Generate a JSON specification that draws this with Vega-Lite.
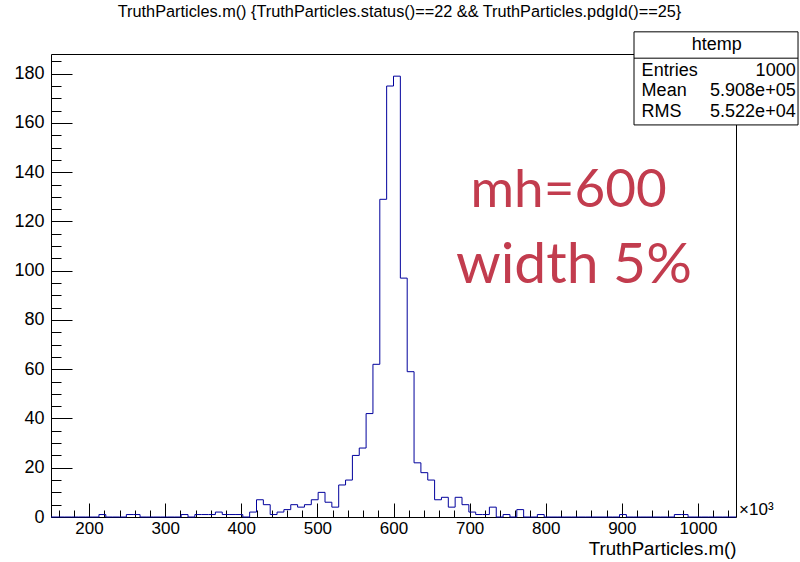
{
  "$schema": "https://vega.github.io/schema/vega-lite/v6.json",
  "width": 685,
  "height": 463,
  "autosize": "none",
  "padding": {"left": 51, "top": 54, "right": 64, "bottom": 45},
  "background": "white",
  "title": {
    "text": "TruthParticles.m() {TruthParticles.status()==22 && TruthParticles.pdgId()==25}",
    "font": "Liberation Sans",
    "fontSize": 16.3,
    "fontWeight": "normal",
    "color": "black",
    "anchor": "middle",
    "dx": 6,
    "offset": 11
  },
  "config": {
    "view": {"stroke": "black", "strokeWidth": 1},
    "axis": {
      "domain": false,
      "grid": false,
      "tickColor": "black",
      "tickWidth": 1,
      "labelColor": "black",
      "labelFont": "Liberation Sans",
      "labelFontSize": 17,
      "titleFont": "Liberation Sans",
      "titleFontWeight": "normal",
      "titleColor": "black"
    }
  },
  "resolve": {"axis": {"x": "independent", "y": "independent"}},
  "datasets": {
    "hist": [
      {"m": 150, "n": 0}, {"m": 159, "n": 0}, {"m": 168, "n": 0}, {"m": 177, "n": 0}, {"m": 186, "n": 0},
      {"m": 195, "n": 0}, {"m": 204, "n": 0}, {"m": 213, "n": 1}, {"m": 222, "n": 0}, {"m": 231, "n": 0},
      {"m": 240, "n": 0}, {"m": 249, "n": 1}, {"m": 258, "n": 1}, {"m": 267, "n": 0}, {"m": 276, "n": 0},
      {"m": 285, "n": 0}, {"m": 294, "n": 0}, {"m": 303, "n": 0}, {"m": 312, "n": 0}, {"m": 321, "n": 1},
      {"m": 330, "n": 0}, {"m": 339, "n": 1}, {"m": 348, "n": 1}, {"m": 357, "n": 1}, {"m": 366, "n": 2},
      {"m": 375, "n": 1}, {"m": 384, "n": 1}, {"m": 393, "n": 1}, {"m": 402, "n": 0}, {"m": 411, "n": 2},
      {"m": 420, "n": 7}, {"m": 429, "n": 5}, {"m": 438, "n": 1}, {"m": 447, "n": 2}, {"m": 456, "n": 3},
      {"m": 465, "n": 5}, {"m": 474, "n": 4}, {"m": 483, "n": 5}, {"m": 492, "n": 7}, {"m": 501, "n": 10},
      {"m": 510, "n": 6}, {"m": 519, "n": 4}, {"m": 528, "n": 13}, {"m": 537, "n": 15}, {"m": 546, "n": 25},
      {"m": 555, "n": 28}, {"m": 564, "n": 42}, {"m": 573, "n": 62}, {"m": 582, "n": 129}, {"m": 591, "n": 175},
      {"m": 600, "n": 179}, {"m": 609, "n": 97}, {"m": 618, "n": 59}, {"m": 627, "n": 22}, {"m": 636, "n": 18},
      {"m": 645, "n": 15}, {"m": 654, "n": 7}, {"m": 663, "n": 8}, {"m": 672, "n": 4}, {"m": 681, "n": 8},
      {"m": 690, "n": 5}, {"m": 699, "n": 2}, {"m": 708, "n": 1}, {"m": 717, "n": 1}, {"m": 726, "n": 4},
      {"m": 735, "n": 0}, {"m": 744, "n": 1}, {"m": 753, "n": 0}, {"m": 762, "n": 3}, {"m": 771, "n": 0},
      {"m": 780, "n": 0}, {"m": 789, "n": 1}, {"m": 798, "n": 0}, {"m": 807, "n": 0}, {"m": 816, "n": 0},
      {"m": 825, "n": 0}, {"m": 834, "n": 0}, {"m": 843, "n": 0}, {"m": 852, "n": 0}, {"m": 861, "n": 0},
      {"m": 870, "n": 0}, {"m": 879, "n": 0}, {"m": 888, "n": 0}, {"m": 897, "n": 1}, {"m": 906, "n": 0},
      {"m": 915, "n": 0}, {"m": 924, "n": 0}, {"m": 933, "n": 0}, {"m": 942, "n": 0}, {"m": 951, "n": 0},
      {"m": 960, "n": 0}, {"m": 969, "n": 1}, {"m": 978, "n": 1}, {"m": 987, "n": 0}, {"m": 996, "n": 0},
      {"m": 1005, "n": 0}, {"m": 1014, "n": 0}, {"m": 1023, "n": 0}, {"m": 1032, "n": 0}, {"m": 1041, "n": 0},
      {"m": 1050, "n": 0}
    ]
  },
  "layer": [
    {
      "data": {"name": "hist"},
      "mark": {"type": "line", "interpolate": "step-after", "color": "#00009c", "strokeWidth": 1},
      "encoding": {
        "x": {
          "field": "m", "type": "quantitative",
          "scale": {"domain": [150, 1050], "nice": false, "zero": false},
          "axis": {
            "orient": "bottom",
            "values": [200, 300, 400, 500, 600, 700, 800, 900, 1000],
            "format": "d",
            "tickSize": -14,
            "labelPadding": 17,
            "labelFlush": false,
            "title": "TruthParticles.m()",
            "titleAnchor": "end",
            "titleFontSize": 18.7,
            "titlePadding": 3
          }
        },
        "y": {
          "field": "n", "type": "quantitative",
          "scale": {"domain": [0, 188], "nice": false},
          "axis": {
            "orient": "left",
            "values": [0, 20, 40, 60, 80, 100, 120, 140, 160, 180],
            "tickSize": -21,
            "labelPadding": 28,
            "labelFontSize": 18,
            "title": null
          }
        }
      }
    },
    {
      "data": {"name": "hist"},
      "mark": {"type": "line", "opacity": 0},
      "encoding": {
        "x": {
          "field": "m", "type": "quantitative",
          "axis": {
            "orient": "bottom",
            "values": [160, 180, 220, 240, 260, 280, 320, 340, 360, 380, 420, 440, 460, 480, 520, 540, 560, 580, 620, 640, 660, 680, 720, 740, 760, 780, 820, 840, 860, 880, 920, 940, 960, 980, 1020, 1040],
            "tickSize": -7,
            "labels": false,
            "title": null
          }
        },
        "y": {
          "field": "n", "type": "quantitative",
          "axis": {
            "orient": "left",
            "values": [5, 10, 15, 25, 30, 35, 45, 50, 55, 65, 70, 75, 85, 90, 95, 105, 110, 115, 125, 130, 135, 145, 150, 155, 165, 170, 175, 185],
            "tickSize": -10,
            "labels": false,
            "title": null
          }
        }
      }
    },
    {
      "data": {"values": [{"t": "mh=600"}]},
      "mark": {"type": "text", "font": "Lato", "fontSize": 53, "color": "#c23c4e", "align": "center", "baseline": "alphabetic"},
      "encoding": {
        "x": {"datum": 830, "type": "quantitative", "axis": null},
        "y": {"datum": 126, "type": "quantitative", "axis": null},
        "text": {"field": "t"}
      }
    },
    {
      "data": {"values": [{"t": "width 5%"}]},
      "mark": {"type": "text", "font": "Lato", "fontSize": 57, "color": "#c23c4e", "align": "center", "baseline": "alphabetic"},
      "encoding": {
        "x": {"datum": 837, "type": "quantitative", "axis": null},
        "y": {"datum": 95, "type": "quantitative", "axis": null},
        "text": {"field": "t"}
      }
    },
    {
      "data": {"values": [{"t": "×10³"}]},
      "mark": {"type": "text", "font": "Liberation Sans", "fontSize": 17, "color": "black", "align": "left", "baseline": "alphabetic"},
      "encoding": {
        "x": {"datum": 1054, "type": "quantitative", "axis": null},
        "y": {"datum": 1, "type": "quantitative", "axis": null},
        "text": {"field": "t"}
      }
    },
    {
      "data": {"values": [{"t": "htemp"}]},
      "mark": {"type": "rect", "fill": "white", "stroke": "black", "strokeWidth": 1},
      "encoding": {
        "x": {"datum": 916, "type": "quantitative", "axis": null},
        "x2": {"datum": 1131.5},
        "y": {"datum": 197, "type": "quantitative", "axis": null},
        "y2": {"datum": 159.2}
      }
    },
    {
      "data": {"values": [{"t": "htemp"}]},
      "mark": {"type": "rule", "color": "black", "strokeWidth": 1},
      "encoding": {
        "x": {"datum": 916, "type": "quantitative", "axis": null},
        "x2": {"datum": 1131.5},
        "y": {"datum": 186.3, "type": "quantitative", "axis": null}
      }
    },
    {
      "data": {"values": [{"t": "htemp"}]},
      "mark": {"type": "text", "font": "Liberation Sans", "fontSize": 18, "color": "black", "align": "center", "baseline": "middle"},
      "encoding": {
        "x": {"datum": 1024.6, "type": "quantitative", "axis": null},
        "y": {"datum": 191.8, "type": "quantitative", "axis": null},
        "text": {"field": "t"}
      }
    },
    {
      "data": {"values": [{"t": ["Entries", "Mean", "RMS"]}]},
      "mark": {"type": "text", "font": "Liberation Sans", "fontSize": 18, "color": "black", "align": "left", "baseline": "middle", "lineHeight": 20.8},
      "encoding": {
        "x": {"datum": 926, "type": "quantitative", "axis": null},
        "y": {"datum": 181.3, "type": "quantitative", "axis": null},
        "text": {"field": "t"}
      }
    },
    {
      "data": {"values": [{"t": ["1000", "5.908e+05", "5.522e+04"]}]},
      "mark": {"type": "text", "font": "Liberation Sans", "fontSize": 18, "color": "black", "align": "right", "baseline": "middle", "lineHeight": 20.8},
      "encoding": {
        "x": {"datum": 1128.4, "type": "quantitative", "axis": null},
        "y": {"datum": 181.3, "type": "quantitative", "axis": null},
        "text": {"field": "t"}
      }
    }
  ]
}
